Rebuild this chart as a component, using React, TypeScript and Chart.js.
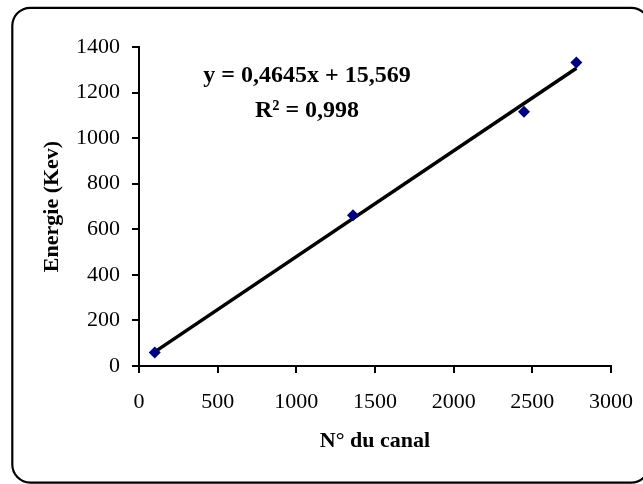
import React, { useEffect, useRef } from "react";
import { Chart, registerables } from "chart.js";

Chart.register(...registerables);

// Data
const channels = [100, 1360, 2447, 2780];
const energies = [59.5, 662, 1116, 1332];
const trendSlope = 0.4645;
const trendIntercept = 15.569;
const equationText = "y = 0,4645x + 15,569";
const r2Text = "R² = 0,998";
const xTitle = "N° du canal";
const yTitle = "Energie (Kev)";
const xMin = 0;
const xMax = 3000;
const xStep = 500;
const yMin = 0;
const yMax = 1400;
const yStep = 200;

const FONT = '"Liberation Serif", "Times New Roman", serif';

export default function App() {
  const ref = useRef<HTMLCanvasElement | null>(null);

  useEffect(() => {
    const canvas = ref.current;
    if (!canvas) return;

    const points = channels.map((x, i) => ({ x, y: energies[i] }));
    const lo = Math.min(...channels);
    const hi = Math.max(...channels);
    const trend = [lo, hi].map((x) => ({ x, y: trendSlope * x + trendIntercept }));

    const frame = {
      id: "frame",
      beforeDraw(chart: any) {
        const c = chart.ctx;
        c.save();
        c.fillStyle = "#ffffff";
        c.fillRect(0, 0, chart.width, chart.height);
        c.beginPath();
        c.lineWidth = 2.2;
        c.strokeStyle = "#000000";
        (c as any).roundRect(12.3, 7.8, 637, 474.8, 18);
        c.stroke();
        c.restore();
      },
    };

    const equation = {
      id: "equation",
      afterDraw(chart: any) {
        const c = chart.ctx;
        c.save();
        c.fillStyle = "#000000";
        c.font = `bold 24px ${FONT}`;
        c.textAlign = "center";
        c.textBaseline = "alphabetic";
        c.fillText(equationText, 307, 82);
        c.fillText(r2Text, 307, 117);
        c.restore();
      },
    };

    const plain = (v: any) => String(v);

    const chart = new Chart(canvas, {
      type: "scatter",
      data: {
        datasets: [
          {
            type: "scatter",
            label: "mesures",
            data: points,
            backgroundColor: "#000080",
            borderColor: "#000080",
            borderWidth: 0,
            pointStyle: "rectRot",
            pointRadius: 6,
            pointHoverRadius: 6,
          } as any,
          {
            type: "line",
            label: "tendance",
            data: trend,
            borderColor: "#000000",
            borderWidth: 3.5,
            pointRadius: 0,
            fill: false,
            tension: 0,
          } as any,
        ],
      },
      options: {
        responsive: false,
        animation: false,
        layout: { padding: { left: 0, top: 47, right: 32, bottom: 0 } },
        plugins: {
          legend: { display: false },
          tooltip: { enabled: false },
          title: { display: false },
        },
        scales: {
          x: {
            type: "linear",
            min: xMin,
            max: xMax,
            ticks: {
              stepSize: xStep,
              color: "#000000",
              font: { family: FONT, size: 22 },
              padding: 16,
              maxRotation: 0,
              callback: plain,
            },
            grid: {
              display: true,
              drawOnChartArea: false,
              drawTicks: true,
              tickLength: 7,
              color: "#000000",
              lineWidth: 2,
            },
            border: { display: true, color: "#000000", width: 2 },
            title: {
              display: true,
              text: xTitle,
              color: "#000000",
              font: { family: FONT, size: 22, weight: "bold" },
              padding: { top: 0, bottom: 29 },
            },
            afterFit(scale: any) {
              scale.height = 118;
              scale.paddingLeft = 0;
              scale.paddingRight = 0;
            },
          },
          y: {
            type: "linear",
            min: yMin,
            max: yMax,
            ticks: {
              stepSize: yStep,
              color: "#000000",
              font: { family: FONT, size: 22 },
              padding: 12,
              callback: plain,
            },
            grid: {
              display: true,
              drawOnChartArea: false,
              drawTicks: true,
              tickLength: 7,
              color: "#000000",
              lineWidth: 2,
            },
            border: { display: true, color: "#000000", width: 2 },
            title: {
              display: true,
              text: yTitle,
              color: "#000000",
              font: { family: FONT, size: 22, weight: "bold" },
              padding: { top: 39, bottom: 0 },
            },
            afterFit(scale: any) {
              scale.width = 139;
              scale.paddingTop = 0;
              scale.paddingBottom = 0;
            },
          },
        },
      } as any,
      plugins: [frame, equation],
    });

    return () => chart.destroy();
  }, []);

  return (
    <div style={{ position: "fixed", left: 0, top: 0, width: 643, height: 484, background: "#fff" }}>
      <canvas ref={ref} width={643} height={484} style={{ width: 643, height: 484, display: "block" }} />
    </div>
  );
}
